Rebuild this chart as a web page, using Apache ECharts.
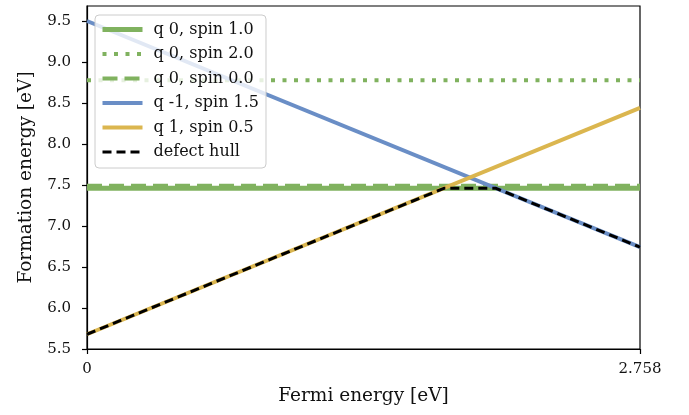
<!DOCTYPE html>
<html>
<head>
<meta charset="utf-8">
<script src="https://cdn.jsdelivr.net/npm/echarts@6/dist/echarts.min.js"></script>
<style>html,body{margin:0;padding:0;background:#fff}#c{width:689px;height:415px}</style>
</head>
<body>
<div id="c"></div>
<script>
// Data
const xRange = [0, 2.758];
const q0spin10 = [7.46, 7.46];
const q0spin20 = [8.777, 8.777];
const q0spin00 = [7.49, 7.49];
const qm1spin15 = [9.5, 6.742];
const q1spin05 = [5.68, 8.44];
const hullX = [0, 1.78, 2.04, 2.758];
const hullY = [5.68, 7.46, 7.46, 6.742];
const yTicks = [5.5, 6.0, 6.5, 7.0, 7.5, 8.0, 8.5, 9.0, 9.5];
const xTicks = [0, 2.758];
const xTickLabels = ['0', '2.758'];
const seriesNames = ['q 0, spin 1.0', 'q 0, spin 2.0', 'q 0, spin 0.0', 'q -1, spin 1.5', 'q 1, spin 0.5', 'defect hull'];

const GREEN = '#80b25f', BLUE = '#6a8ec6', YELLOW = '#dbb64f';
const FONT = 'DejaVu Serif';

function pairs(xs, ys) { return xs.map((x, i) => [x, ys[i]]); }

const styles = [
  {color: GREEN, width: 5, type: 'solid'},
  {color: GREEN, width: 4, type: [4, 7.5]},
  {color: GREEN, width: 4, type: [15, 7]},
  {color: BLUE, width: 4, type: 'solid'},
  {color: YELLOW, width: 4, type: 'solid'},
  {color: '#000', width: 3, type: [9, 5]}
];
const seriesData = [
  pairs(xRange, q0spin10), pairs(xRange, q0spin20), pairs(xRange, q0spin00),
  pairs(xRange, qm1spin15), pairs(xRange, q1spin05), pairs(hullX, hullY)
];
const zs = [2, 2, 2, 3, 3, 4];

const chart = echarts.init(document.getElementById('c'), null, {renderer: 'canvas'});
chart.setOption({
  animation: false,
  backgroundColor: '#fff',
  grid: {left: 87, right: 49, top: 6, bottom: 66, show: true, borderColor: '#000', borderWidth: 1.2, backgroundColor: 'transparent'},
  legend: {
    orient: 'vertical', left: 95, top: 15,
    itemWidth: 40, itemHeight: 14, itemGap: 8.5,
    padding: [6.5, 7, 8, 5],
    backgroundColor: 'rgba(255,255,255,0.8)', borderColor: '#cccccc', borderWidth: 1, borderRadius: 4,
    textStyle: {fontFamily: FONT, fontSize: 16, color: '#111', lineHeight: 16, padding: [0, 0, 0, 6]},
    itemStyle: {opacity: 0},
    data: seriesNames.map((n, i) => ({name: n, lineStyle: {width: styles[i].width, type: styles[i].type, color: styles[i].color, cap: 'butt'}})),
    z: 10
  },
  xAxis: {
    type: 'value', min: xRange[0], max: xRange[1],
    name: 'Fermi energy [eV]', nameLocation: 'middle', nameGap: 38,
    nameTextStyle: {fontFamily: FONT, fontSize: 18.5, color: '#111', verticalAlign: 'top'},
    axisLine: {show: true, lineStyle: {color: '#000', width: 1.2}},
    axisTick: {show: true, length: 5, inside: false, customValues: xTicks, lineStyle: {color: '#000', width: 1.2}},
    axisLabel: {customValues: xTicks, margin: 13, fontFamily: FONT, fontSize: 15, color: '#111',
      formatter: v => { const i = xTicks.findIndex(t => Math.abs(t - v) < 1e-6); return i >= 0 ? xTickLabels[i] : ''; }},
    splitLine: {show: false}
  },
  yAxis: {
    type: 'value', min: 5.5, max: 9.683,
    name: 'Formation energy [eV]', nameLocation: 'middle', nameGap: 51,
    nameTextStyle: {fontFamily: FONT, fontSize: 18.5, color: '#111'},
    axisLine: {show: true, lineStyle: {color: '#000', width: 1.2}},
    axisTick: {show: true, length: 5, inside: false, customValues: yTicks, lineStyle: {color: '#000', width: 1.2}},
    axisLabel: {customValues: yTicks, margin: 16, fontFamily: FONT, fontSize: 15, color: '#111',
      formatter: v => v.toFixed(1)},
    splitLine: {show: false}
  },
  series: seriesNames.map((n, i) => ({
    name: n, type: 'line', data: seriesData[i], symbol: 'none', color: styles[i].color, z: zs[i],
    lineStyle: {width: styles[i].width, color: styles[i].color, type: styles[i].type, cap: 'butt'}
  }))
});
</script>
</body>
</html>
